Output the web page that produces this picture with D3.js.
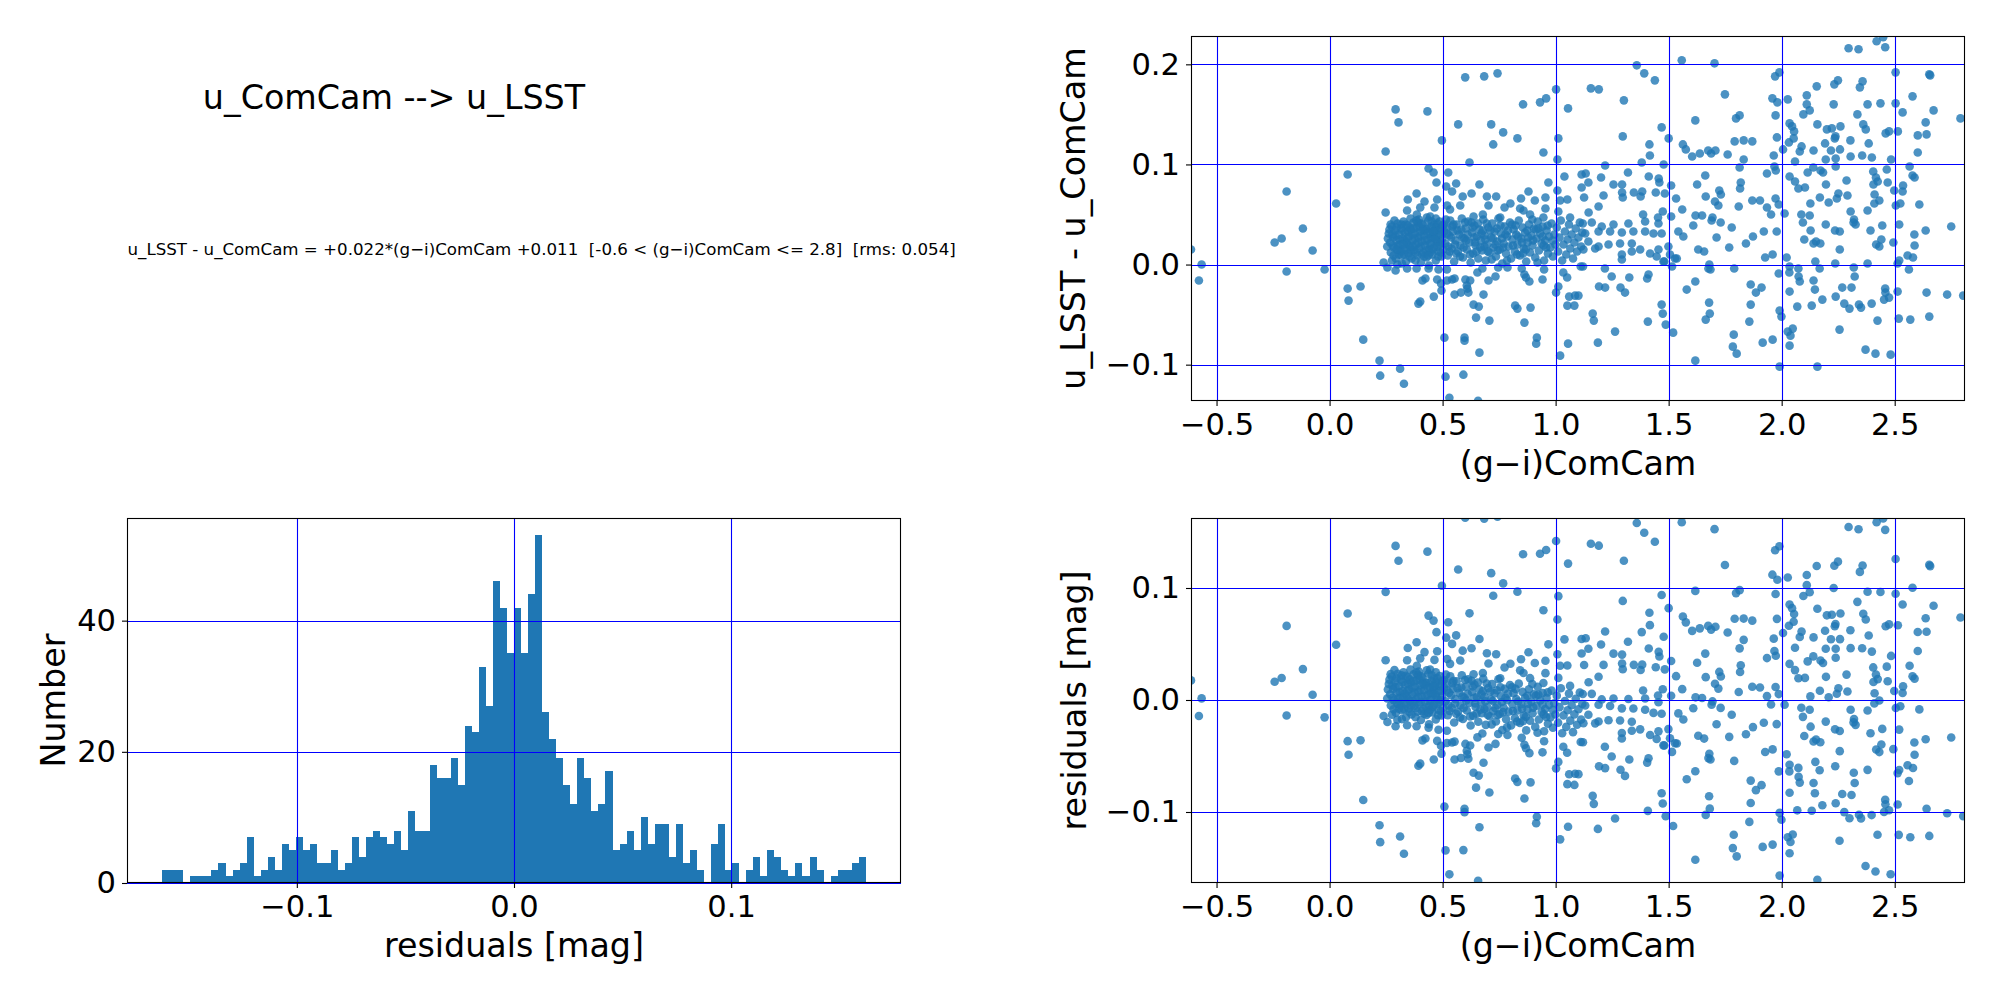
<!DOCTYPE html>
<html>
<head>
  <meta charset="utf-8">
  <script src="https://d3js.org/d3.v7.min.js"></script>
  <style>
    body { margin: 0; background: #fff; }
    svg { display: block; font-family: "DejaVu Sans", sans-serif; }
  </style>
</head>
<body>
  <div id="chart"></div>

  <script>
    // fit result shown in the top-left text
    const fitSlope = 0.022;
    const fitIntercept = 0.011;
    const titleText = "u_ComCam --> u_LSST";
    const fitText = "u_LSST - u_ComCam = +0.022*(g\u2212i)ComCam +0.011  [-0.6 < (g\u2212i)ComCam <= 2.8]  [rms: 0.054]";

    // histogram of residuals: 100 bins between -3 rms and +3 rms
    const histRange = [-0.162, 0.162];
    const histCounts = [
      2, 2, 2, 0, 1, 1, 1, 2, 3, 1, 2, 3, 7, 1, 2, 4, 2, 6, 5, 7,
      5, 6, 3, 3, 5, 2, 3, 7, 4, 7, 8, 7, 6, 8, 5, 11, 8, 8, 18, 16,
      16, 19, 15, 24, 23, 33, 27, 46, 42, 35, 42, 35, 44, 53, 26, 22, 19, 15, 12, 19,
      16, 11, 12, 17, 5, 6, 8, 5, 10, 6, 9, 9, 4, 9, 3, 5, 2, 0, 6, 9,
      2, 3, 0, 2, 4, 1, 5, 4, 2, 1, 3, 1, 4, 2, 0, 1, 2, 2, 3, 4
    ];

    // [(g-i)ComCam, u_LSST - u_ComCam]
    const scatterPoints = [
      [0.600,0.187],[0.684,0.188],[0.743,0.191],[1.002,0.175],[0.292,0.155],[0.433,0.153],[0.305,0.142],[0.569,0.140],
      [0.715,0.140],[0.856,0.160],[0.931,0.162],[0.958,0.166],[1.055,0.156],[0.768,0.132],[0.831,0.126],[0.724,0.120],
      [0.497,0.124],[1.012,0.126],[0.248,0.113],[0.946,0.112],[1.008,0.105],[0.619,0.102],[0.438,0.096],[0.460,0.092],
      [0.525,0.092],[0.080,0.090],[0.473,0.082],[0.560,0.081],[0.516,0.078],[0.663,0.080],[-0.190,0.073],[0.968,0.082],
      [1.039,0.088],[1.008,0.074],[1.115,0.077],[1.115,0.090],[0.029,0.061],[0.385,0.071],[0.346,0.065],[0.420,0.063],
      [0.476,0.065],[0.542,0.073],[0.589,0.068],[0.628,0.071],[0.696,0.068],[0.737,0.068],[0.800,0.061],[0.847,0.066],
      [0.880,0.073],[0.908,0.064],[0.955,0.067],[1.020,0.064],[1.052,0.065],[0.248,0.052],[0.343,0.054],[0.401,0.057],
      [0.464,0.057],[0.520,0.059],[0.533,0.055],[0.578,0.059],[0.703,0.059],[0.774,0.057],[0.843,0.056],[0.955,0.056],
      [1.012,0.053],[0.386,0.050],[0.445,0.048],[0.637,0.048],[0.678,0.050],[0.755,0.047],[0.858,0.054],[0.887,0.050],
      [0.946,0.047],[1.064,0.047],

      [2.296,0.216],[2.340,0.215],[2.420,0.223],[2.458,0.217],[2.449,0.227],[1.359,0.199],[1.558,0.204],[1.703,0.201],
      [1.392,0.191],[1.439,0.184],[1.156,0.176],[1.191,0.175],[1.302,0.164],[1.749,0.170],[1.971,0.188],[1.990,0.192],
      [2.504,0.192],[2.653,0.190],[2.657,0.189],[2.155,0.178],[2.233,0.180],[2.249,0.184],[2.346,0.177],[2.358,0.183],
      [1.959,0.166],[1.981,0.162],[2.027,0.165],[2.111,0.169],[2.111,0.160],[2.230,0.160],[2.380,0.160],[2.437,0.161],
      [2.504,0.161],[2.579,0.168],[2.535,0.152],[2.672,0.154],[2.791,0.146],[2.096,0.150],[2.124,0.154],[1.973,0.149],
      [1.798,0.146],[1.814,0.149],[2.335,0.150],[1.618,0.144],[1.469,0.137],[2.035,0.141],[2.046,0.138],[2.055,0.133],
      [2.158,0.140],[2.200,0.135],[2.222,0.136],[2.260,0.138],[2.238,0.128],[2.235,0.126],[2.361,0.140],[2.372,0.135],
      [2.460,0.131],[2.475,0.133],[2.514,0.133],[2.637,0.142],[2.602,0.129],[2.641,0.130],[1.297,0.128],[1.415,0.120],
      [1.500,0.126],[1.563,0.120],[1.576,0.115],[1.604,0.108],[1.638,0.111],[1.675,0.114],[1.688,0.111],[1.707,0.114],
      [1.761,0.110],[1.792,0.123],[1.832,0.124],[1.870,0.123],[1.979,0.127],[1.965,0.109],[2.006,0.115],[2.032,0.122],
      [2.053,0.126],[2.088,0.118],[2.080,0.113],[2.141,0.114],[2.192,0.121],[2.218,0.114],[2.258,0.115],[2.304,0.124],
      [2.385,0.121],[2.305,0.108],[2.356,0.109],[2.399,0.107],[2.484,0.105],[2.602,0.112],[1.417,0.109],[1.381,0.102],
      [1.478,0.100],[1.832,0.105],[2.059,0.103],[2.195,0.105],[2.239,0.106],[1.814,0.097],[1.968,0.098],[1.974,0.094],
      [1.320,0.092],[1.219,0.099],[1.133,0.091],[1.201,0.087],[1.145,0.082],[1.412,0.088],[1.456,0.086],[1.626,0.080],
      [1.662,0.089],[1.819,0.082],[1.816,0.076],[1.935,0.091],[2.035,0.088],[2.059,0.083],[2.115,0.092],[2.140,0.097],
      [2.172,0.094],[2.183,0.092],[2.239,0.098],[2.287,0.084],[2.196,0.080],[2.103,0.077],[2.074,0.076],[2.405,0.093],
      [2.417,0.087],[2.425,0.083],[2.465,0.095],[2.469,0.082],[2.566,0.098],[2.579,0.089],[2.588,0.087],[2.537,0.079],
      [2.498,0.074],[2.535,0.073],[2.406,0.080],[2.411,0.070],[2.432,0.064],[2.410,0.061],[2.609,0.060],[2.525,0.061],
      [2.505,0.059],[1.256,0.080],[1.294,0.080],[1.346,0.072],[1.383,0.073],[1.443,0.072],[1.459,0.082],[1.483,0.071],
      [1.511,0.079],[1.533,0.066],[1.297,0.067],[1.126,0.067],[1.212,0.069],[1.294,0.072],[1.376,0.068],[1.664,0.068],
      [1.724,0.074],[1.731,0.070],[1.705,0.063],[1.720,0.059],[1.870,0.064],[1.904,0.064],[1.973,0.066],[1.987,0.060],
      [1.935,0.057],[1.953,0.050],[2.013,0.051],[1.810,0.058],[1.560,0.055],[1.619,0.049],[1.648,0.049],[1.694,0.047],
      [1.190,0.058],[1.146,0.052],[1.387,0.050],[1.474,0.053],[1.453,0.047],[1.511,0.048],[2.127,0.061],[2.169,0.067],
      [2.208,0.062],[2.244,0.066],[2.291,0.069],[2.251,0.071],[2.305,0.053],[2.380,0.054],[2.087,0.050],[2.124,0.049],
      [2.320,0.045],

      [-0.613,0.015],[-0.566,0.000],[-0.578,-0.016],[-0.243,0.022],[-0.212,0.026],[-0.118,0.036],[-0.075,0.014],[-0.190,-0.007],
      [-0.022,-0.005],[0.080,-0.024],[0.137,-0.022],[0.084,-0.036],[0.149,-0.075],[0.221,-0.096],[0.224,-0.111],[0.312,-0.104],
      [0.329,-0.119],[0.508,-0.073],[0.597,-0.073],[0.597,-0.076],[0.663,-0.088],[0.513,-0.112],[0.592,-0.110],[0.530,-0.133],
      [0.657,-0.136],[0.917,-0.073],[0.914,-0.079],[1.055,-0.079],[1.020,-0.091],[0.393,-0.039],[0.401,-0.037],[0.461,-0.032],
      [0.495,-0.026],[0.553,-0.030],[0.581,-0.028],[0.614,-0.028],[0.681,-0.030],[0.637,-0.040],[0.660,-0.042],[0.648,-0.053],
      [0.707,-0.056],[0.821,-0.041],[0.831,-0.044],[0.889,-0.043],[0.862,-0.058],[1.002,-0.028],[1.012,-0.022],[1.060,-0.032],
      [1.086,-0.031],[1.052,-0.041],[1.083,-0.041],[0.411,-0.016],[0.424,-0.014],[0.476,-0.015],[0.493,-0.019],[0.519,-0.016],
      [0.542,-0.015],[0.553,-0.014],[0.601,-0.015],[0.622,-0.016],[0.607,-0.021],[0.610,-0.024],[0.703,-0.016],[0.734,-0.012],
      [0.862,-0.010],[0.869,-0.013],[0.884,-0.017],[0.942,-0.015],[1.034,-0.008],[1.051,-0.013],[0.239,0.002],[0.256,-0.003],
      [0.292,-0.006],[0.343,-0.004],[0.385,-0.004],[0.438,-0.004],[0.482,-0.005],[0.519,-0.005],[0.654,-0.008],[0.676,-0.004],
      [0.746,-0.003],[0.787,-0.003],[0.850,-0.004],[0.949,-0.005],[1.111,-0.002],

      [2.750,0.038],[2.637,0.034],[2.587,0.030],[2.520,0.040],[2.445,0.039],[2.393,0.034],[2.327,0.040],[2.318,0.042],
      [2.195,0.040],[2.128,0.034],[2.094,0.042],[2.236,0.034],[2.257,0.033],[2.100,0.025],[2.152,0.023],[2.171,0.021],
      [2.141,0.021],[2.257,0.015],[2.418,0.020],[2.432,0.018],[2.441,0.025],[2.494,0.022],[2.588,0.019],[2.557,0.009],
      [2.581,0.007],[2.520,0.004],[2.513,0.001],[2.563,-0.005],[2.380,0.001],[2.319,-0.003],[2.237,0.001],[2.149,0.003],
      [2.168,-0.004],[2.022,0.007],[2.035,-0.002],[2.074,-0.004],[1.987,-0.009],[2.034,-0.008],[2.075,-0.012],[2.080,-0.017],
      [2.141,-0.016],[2.147,-0.025],[2.323,-0.012],[2.268,-0.023],[2.309,-0.023],[2.035,-0.027],[2.180,-0.035],[2.239,-0.032],
      [2.277,-0.039],[2.300,-0.044],[2.342,-0.040],[2.351,-0.043],[2.398,-0.039],[2.458,-0.024],[2.459,-0.028],[2.453,-0.035],
      [2.475,-0.033],[2.513,-0.027],[2.641,-0.028],[2.732,-0.030],[2.803,-0.031],[2.069,-0.042],[2.133,-0.041],[1.991,-0.046],
      [1.999,-0.052],[2.424,-0.056],[2.256,-0.065],[2.518,-0.054],[2.569,-0.055],[2.653,-0.052],[2.027,-0.067],[2.049,-0.064],
      [2.039,-0.071],[2.035,-0.081],[2.371,-0.085],[2.415,-0.089],[2.482,-0.090],[1.991,-0.102],[2.158,-0.102],[1.916,-0.078],
      [1.960,-0.075],[1.857,-0.057],[1.863,-0.040],[1.863,-0.020],[1.886,-0.028],[1.911,-0.023],[1.788,-0.070],[1.784,-0.082],
      [1.801,-0.089],[1.618,-0.096],[1.679,-0.038],[1.682,-0.049],[1.664,-0.055],[1.618,-0.017],[1.580,-0.025],[1.790,-0.004],
      [1.676,-0.004],[1.685,-0.005],[1.680,0.000],[1.520,-0.068],[1.487,-0.060],[1.474,-0.049],[1.469,-0.040],[1.408,-0.057],
      [1.263,-0.067],[1.187,-0.078],[1.164,-0.049],[1.169,-0.056],[1.192,-0.022],[1.219,-0.023],[1.287,-0.023],[1.307,-0.028],
      [1.248,-0.012],[1.326,-0.013],[1.411,-0.010],[1.405,-0.014],[1.218,-0.004],[1.121,-0.002],[1.101,-0.031],[1.481,0.003],
      [1.515,-0.002],[1.536,0.006],[1.543,0.033],[1.565,0.028],[1.609,0.039],[1.631,0.015],[1.657,0.013],[1.712,0.027],
      [1.768,0.017],[1.779,0.037],[1.842,0.021],[1.873,0.028],[1.921,0.033],[1.927,0.007],[1.960,0.010],[1.978,0.033],
      [1.690,0.044],[1.730,0.042],

      [1.120,0.041],[1.160,0.042],[1.204,0.038],[1.256,0.040],[1.322,0.041],[1.396,0.043],[1.455,0.041],[1.131,0.031],
      [1.190,0.033],[1.241,0.033],[1.293,0.032],[1.344,0.033],[1.396,0.033],[1.433,0.031],[1.469,0.031],[1.145,0.023],
      [1.190,0.018],[1.234,0.020],[1.285,0.021],[1.337,0.021],[1.374,0.015],[1.418,0.011],[1.455,0.015],[1.499,0.018],
      [1.123,0.015],[1.175,0.016],[1.293,0.010],[1.337,0.013],[1.506,0.010],[1.528,0.006],[1.477,0.003],[1.447,0.008],
      [1.293,0.005],

      [0.262,0.031],[0.268,0.022],[0.271,0.012],[0.275,0.038],[0.281,0.027],[0.284,0.017],[0.289,0.034],[0.293,0.006],
      [0.296,0.024],[0.301,0.041],[0.304,0.014],[0.308,0.030],[0.312,0.020],[0.316,0.036],[0.319,0.009],[0.323,0.026],
      [0.327,0.043],[0.330,0.016],[0.334,0.032],[0.338,0.003],[0.341,0.022],[0.345,0.039],[0.349,0.011],[0.352,0.028],
      [0.356,0.018],[0.360,0.035],[0.363,0.006],[0.367,0.024],[0.371,0.042],[0.374,0.014],[0.378,0.031],[0.382,0.020],
      [0.385,0.037],[0.389,0.009],[0.393,0.027],[0.396,0.016],[0.400,0.033],[0.404,0.002],[0.407,0.023],[0.411,0.040],
      [0.415,0.012],[0.418,0.029],[0.422,0.019],[0.426,0.036],[0.429,0.007],[0.433,0.025],[0.437,0.044],[0.440,0.015],
      [0.444,0.032],[0.448,0.021],[0.451,0.038],[0.455,0.010],[0.459,0.027],[0.462,0.017],[0.466,0.034],[0.470,0.004],
      [0.473,0.024],[0.477,0.041],[0.481,0.013],[0.484,0.030],[0.488,0.020],[0.492,0.036],[0.495,0.008],[0.499,0.026],
      [0.503,0.015],[0.507,0.033],[0.255,0.018],[0.258,0.026],[0.287,0.044],[0.320,0.001],[0.358,0.046],[0.395,0.045],
      [0.430,0.047],[0.470,0.046],[0.300,0.000],[0.440,-0.001],[0.276,0.004],[0.330,0.010],[0.380,0.004],[0.420,0.034],
      [0.462,0.030],[0.350,0.020],[0.310,0.025],[0.398,0.038],[0.445,0.012],[0.487,0.043],[0.265,0.035],[0.279,0.019],
      [0.292,0.029],[0.306,0.010],[0.318,0.040],[0.333,0.024],[0.347,0.033],[0.361,0.014],[0.376,0.026],[0.390,0.042],
      [0.404,0.018],[0.419,0.008],[0.434,0.036],[0.449,0.027],[0.463,0.040],[0.478,0.022],[0.492,0.012],[0.506,0.040],
      [0.270,0.040],[0.283,0.009],[0.297,0.037],[0.303,0.019],[0.315,0.013],[0.322,0.034],[0.336,0.040],[0.339,0.015],
      [0.353,0.008],[0.355,0.037],[0.366,0.030],[0.369,0.018],[0.381,0.012],[0.384,0.044],[0.392,0.022],[0.402,0.029],
      [0.409,0.010],[0.413,0.035],[0.424,0.024],[0.428,0.014],[0.436,0.031],[0.442,0.020],[0.452,0.043],[0.457,0.015],
      [0.468,0.026],[0.471,0.037],[0.480,0.008],[0.486,0.034],[0.494,0.022],[0.500,0.039],[0.278,0.030],[0.298,0.015],
      [0.326,0.020],[0.344,0.027],[0.372,0.036],[0.406,0.041],[0.438,0.009],[0.458,0.033],[0.476,0.018],[0.497,0.030],

      [0.512,0.021],[0.518,0.037],[0.523,0.009],[0.529,0.029],[0.534,0.044],[0.540,0.016],[0.546,0.033],[0.551,0.003],
      [0.557,0.024],[0.562,0.040],[0.568,0.013],[0.574,0.030],[0.579,0.019],[0.585,0.046],[0.590,0.007],[0.596,0.026],
      [0.602,0.036],[0.607,0.015],[0.613,0.043],[0.618,0.022],[0.624,0.002],[0.630,0.032],[0.635,0.011],[0.641,0.039],
      [0.646,0.019],[0.652,0.028],[0.658,0.006],[0.663,0.035],[0.669,0.024],[0.674,0.014],[0.680,0.045],[0.686,0.029],
      [0.691,0.004],[0.697,0.020],[0.702,0.037],[0.708,0.012],[0.714,0.027],[0.719,0.041],[0.725,0.017],[0.730,0.033],
      [0.736,0.008],[0.742,0.023],[0.747,0.046],[0.753,0.015],[0.758,0.031],[0.764,0.001],[0.770,0.021],[0.775,0.038],
      [0.781,0.011],[0.786,0.028],[0.792,0.018],[0.798,0.042],[0.803,0.006],[0.809,0.025],[0.814,0.035],[0.820,0.013],
      [0.826,0.030],[0.831,0.020],[0.837,0.044],[0.842,0.009],[0.848,0.026],[0.854,0.037],[0.859,0.016],[0.865,0.032],
      [0.870,0.003],[0.876,0.022],[0.882,0.040],[0.887,0.012],[0.893,0.029],[0.898,0.019],[0.904,0.036],[0.910,0.007],
      [0.915,0.026],[0.921,0.043],[0.926,0.014],[0.932,0.031],[0.938,0.021],[0.943,0.038],[0.949,0.004],[0.954,0.024],
      [0.960,0.034],[0.966,0.011],[0.971,0.028],[0.977,0.017],[0.982,0.041],[0.988,0.008],[0.994,0.030],[0.999,0.020],
      [0.515,0.045],[0.538,0.027],[0.560,0.011],[0.583,0.035],[0.605,0.024],[0.628,0.042],[0.650,0.013],[0.672,0.031],
      [0.695,0.041],[0.717,0.005],[0.740,0.036],[0.762,0.026],[0.785,0.004],[0.807,0.040],[0.830,0.010],[0.852,0.022],
      [0.875,0.034],[0.897,0.045],[0.920,0.002],[0.942,0.028],[0.965,0.039],[0.987,0.024],[0.525,0.018],[0.548,0.040],
      [0.593,0.017],[0.640,0.027],[0.685,0.018],[0.733,0.020],[0.778,0.030],[0.823,0.039],[0.868,0.015],[0.913,0.035],
      [0.958,0.017],[0.520,0.031],[0.531,0.013],[0.543,0.038],[0.555,0.020],[0.566,0.034],[0.577,0.008],[0.588,0.027],
      [0.599,0.042],[0.611,0.030],[0.622,0.010],[0.633,0.037],[0.644,0.022],[0.656,0.041],[0.667,0.017],[0.678,0.034],
      [0.689,0.025],[0.700,0.013],[0.711,0.034],[0.722,0.026],[0.744,0.014],[0.756,0.039],[0.767,0.017],[0.789,0.034],
      [0.811,0.019],[0.834,0.028],[0.856,0.011],[0.879,0.027],[0.901,0.024],[0.924,0.036],[0.947,0.019],

      [1.005,0.037],[1.011,0.013],[1.017,0.027],[1.023,0.044],[1.029,0.004],[1.035,0.020],[1.041,0.033],[1.047,0.010],
      [1.053,0.025],[1.059,0.040],[1.065,0.016],[1.071,0.030],[1.077,0.006],[1.083,0.022],[1.089,0.036],[1.095,0.013],
      [1.101,0.027],[1.107,0.042],[1.113,0.018],[1.118,0.032]
    ];

    // axis limits and ticks
    const colorDomain = [-0.613, 2.811];
    const deltaDomain = [-0.1363, 0.2283];
    const residDomain = [-0.1634, 0.1625];
    const histXDomain = [-0.1782, 0.1782];
    const histYDomain = [0, 55.65];
    const colorTicks = [-0.5, 0.0, 0.5, 1.0, 1.5, 2.0, 2.5];
    const deltaTicks = [-0.1, 0.0, 0.1, 0.2];
    const residTicks = [-0.1, 0.0, 0.1];
    const histXTicks = [-0.1, 0.0, 0.1];
    const histYTicks = [0, 20, 40];

    const width = 2000, height = 1000;
    const tickFont = 30.56, labelFont = 33.33;
    const blue = "#1f77b4";

    const svg = d3.select("#chart")
      .append("svg")
      .attr("width", width)
      .attr("height", height);

    svg.append("rect").attr("width", width).attr("height", height).attr("fill", "#fff");

    // snap a coordinate to the pixel centre so 1px lines stay sharp
    const snap = v => Math.round(v) + 0.5;

    // make one panel: scales and a clipped group for the data
    function makePanel(id, box, xDomain, yDomain) {
      const g = svg.append("g").attr("transform", `translate(${box.x},${box.y})`);
      const x = d3.scaleLinear().domain(xDomain).range([0, box.w]);
      const y = d3.scaleLinear().domain(yDomain).range([box.h, 0]);
      svg.append("clipPath").attr("id", id)
        .append("rect").attr("width", box.w).attr("height", box.h);
      const plot = g.append("g").attr("clip-path", `url(#${id})`);
      return { g, x, y, plot, box };
    }

    // grid (on top of the data), ticks, frame and labels
    function finishPanel(p, xTicks, yTicks, xFmt, yFmt, xLabel, yLabel, yLabelOff) {
      const { g, x, y, box } = p;

      const grid = g.append("g").attr("stroke", "blue").attr("stroke-width", 1.1);
      grid.selectAll(".vx").data(xTicks).enter().append("line")
        .attr("x1", d => snap(x(d))).attr("x2", d => snap(x(d)))
        .attr("y1", 0).attr("y2", box.h);
      grid.selectAll(".hy").data(yTicks).enter().append("line")
        .attr("y1", d => snap(y(d))).attr("y2", d => snap(y(d)))
        .attr("x1", 0).attr("x2", box.w);

      const xAxis = g.append("g")
        .attr("transform", `translate(0,${box.h})`)
        .call(d3.axisBottom(x).tickValues(xTicks).tickFormat(xFmt).tickSize(5).tickPadding(7));
      const yAxis = g.append("g")
        .call(d3.axisLeft(y).tickValues(yTicks).tickFormat(yFmt).tickSize(5).tickPadding(6));

      [xAxis, yAxis].forEach(a => {
        a.select(".domain").remove();
        a.selectAll(".tick line").attr("stroke", "#000").attr("stroke-width", 1.1);
        a.selectAll(".tick text")
          .attr("fill", "#000")
          .style("font-family", "DejaVu Sans")
          .style("font-size", tickFont + "px");
      });

      g.append("rect")
        .attr("x", 0.5).attr("y", 0.5)
        .attr("width", box.w - 1).attr("height", box.h - 1)
        .attr("fill", "none").attr("stroke", "#000").attr("stroke-width", 1.1);

      g.append("text")
        .attr("x", box.w / 2).attr("y", box.h + 74)
        .attr("text-anchor", "middle")
        .style("font-size", labelFont + "px")
        .text(xLabel);

      g.append("text")
        .attr("transform", `translate(${-yLabelOff},${box.h / 2}) rotate(-90)`)
        .attr("text-anchor", "middle")
        .style("font-size", labelFont + "px")
        .text(yLabel);
    }

    const fmt1 = d3.format(".1f");
    const residual = d => d[1] - (fitSlope * d[0] + fitIntercept);

    // top-left: title and fit text (axes hidden)
    svg.append("text")
      .attr("x", 394).attr("y", 109)
      .attr("text-anchor", "middle")
      .style("font-size", "33.33px")
      .text(titleText);

    svg.append("text")
      .attr("x", 127.5).attr("y", 255)
      .style("font-size", "16.67px")
      .style("white-space", "pre")
      .text(fitText);

    // top-right: colour term scatter
    const pTop = makePanel("clipTop", { x: 1191, y: 36, w: 774, h: 365 }, colorDomain, deltaDomain);
    pTop.plot.selectAll("circle")
      .data(scatterPoints)
      .enter().append("circle")
      .attr("cx", d => pTop.x(d[0]))
      .attr("cy", d => pTop.y(d[1]))
      .attr("r", 4.3)
      .attr("fill", blue)
      .attr("fill-opacity", 0.8);
    finishPanel(pTop, colorTicks, deltaTicks, fmt1, fmt1, "(g\u2212i)ComCam", "u_LSST - u_ComCam", 106);

    // bottom-right: residuals vs colour
    const pRes = makePanel("clipRes", { x: 1191, y: 518, w: 774, h: 365 }, colorDomain, residDomain);
    pRes.plot.selectAll("circle")
      .data(scatterPoints)
      .enter().append("circle")
      .attr("cx", d => pRes.x(d[0]))
      .attr("cy", d => pRes.y(residual(d)))
      .attr("r", 4.3)
      .attr("fill", blue)
      .attr("fill-opacity", 0.8);
    finishPanel(pRes, colorTicks, residTicks, fmt1, fmt1, "(g\u2212i)ComCam", "residuals [mag]", 105);

    // bottom-left: histogram of residuals
    const pHist = makePanel("clipHist", { x: 127, y: 518, w: 774, h: 365 }, histXDomain, histYDomain);
    const binW = (histRange[1] - histRange[0]) / histCounts.length;
    const bins = histCounts.map((c, i) => ({ x0: histRange[0] + i * binW, x1: histRange[0] + (i + 1) * binW, n: c }));
    pHist.plot.selectAll("rect")
      .data(bins.filter(b => b.n > 0))
      .enter().append("rect")
      .attr("x", d => pHist.x(d.x0))
      .attr("width", d => pHist.x(d.x1) - pHist.x(d.x0))
      .attr("y", d => pHist.y(d.n))
      .attr("height", d => pHist.y(0) - pHist.y(d.n))
      .attr("fill", blue)
      .attr("shape-rendering", "crispEdges");
    finishPanel(pHist, histXTicks, histYTicks, fmt1, d3.format("d"), "residuals [mag]", "Number", 62);
  </script>
</body>
</html>
